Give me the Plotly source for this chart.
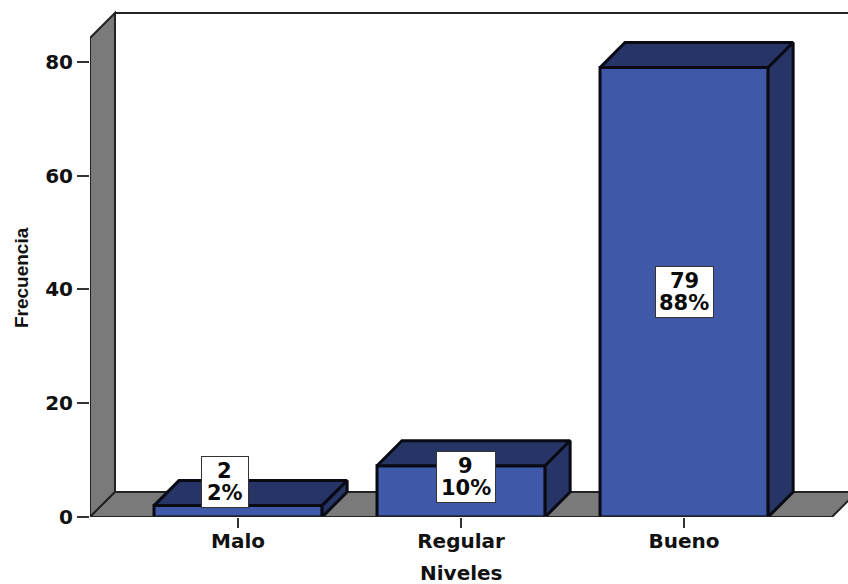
import plotly.graph_objects as go

categories = ["Malo", "Regular", "Bueno"]
values = [2, 9, 79]
percents = ["2%", "10%", "88%"]
y_ticks = [0, 20, 40, 60, 80]
x_title = "Niveles"
y_title = "Frecuencia"

# label box centres in axis units, and box widths in px
label_x = [-0.06, 0.022 + 1, 2]
label_y = [6.07, 7.1, 39.5]
box_w = [44, 56, 55]

BLUE = "#3f58a8"
DARK = "#263566"
GRAY = "#7a7a7a"
INK = "#0a0a14"
FONT = "DejaVu Sans"

half = 0.377      # half bar width, category units
dx = 0.112        # 3D depth, category units
dy = 4.4          # 3D depth, value units
x0, x1 = -0.664, 2.735
y1 = 90.0
wall_top = 84.2
floor_end = 2.663

fig = go.Figure()

fig.add_trace(go.Bar(
    x=list(range(3)), y=values, width=2 * half,
    marker=dict(color=BLUE, line=dict(color=INK, width=3)),
    hoverinfo="skip", showlegend=False,
))

for i, v in enumerate(values):
    l, r = i - half, i + half
    fig.add_trace(go.Scatter(
        x=[l, l + dx, r + dx, r, l], y=[v, v + dy, v + dy, v, v],
        mode="lines", fill="toself", fillcolor=DARK,
        line=dict(color=INK, width=3), showlegend=False, hoverinfo="skip",
    ))
    fig.add_trace(go.Scatter(
        x=[r, r + dx, r + dx, r, r], y=[0, dy, v + dy, v, 0],
        mode="lines", fill="toself", fillcolor=DARK,
        line=dict(color=INK, width=3), showlegend=False, hoverinfo="skip",
    ))

# baseline and front wall edge, unclipped so that their full width shows
fig.add_trace(go.Scatter(
    x=[x0, x0, floor_end], y=[wall_top, 0, 0], mode="lines", cliponaxis=False,
    line=dict(color="#222222", width=2), showlegend=False, hoverinfo="skip",
))

shapes = [
    dict(type="path", layer="below", xref="x", yref="y",
         path=f"M{x0},0 L{x0},{wall_top} L{x0 + dx},{wall_top + dy} L{x0 + dx},{dy} Z",
         fillcolor=GRAY, line=dict(color="#222222", width=2)),
    dict(type="path", layer="below", xref="x", yref="y",
         path=f"M{x0},0 L{x0 + dx},{dy} L{floor_end + dx},{dy} L{floor_end},0 Z",
         fillcolor=GRAY, line=dict(color="#222222", width=2)),
    dict(type="line", layer="below", xref="x", yref="y",
         x0=x0 + dx, x1=x1, y0=wall_top + dy, y1=wall_top + dy,
         line=dict(color="#222222", width=2)),
]

annotations = []
for i, (v, p) in enumerate(zip(values, percents)):
    annotations.append(dict(
        x=label_x[i], y=label_y[i], xref="x", yref="y", text=" ", showarrow=False,
        width=box_w[i], height=48, bgcolor="white",
        bordercolor="#333333", borderwidth=1, borderpad=1,
    ))
    for txt, shift in ((str(v), 11), (p, -11)):
        annotations.append(dict(
            x=label_x[i], y=label_y[i], xref="x", yref="y", text=f"<b>{txt}</b>",
            showarrow=False, yshift=shift,
            font=dict(family=FONT, size=21, color="#0a0a0a"),
        ))

annotations.append(dict(
    x=1, y=-0.109, xref="x", yref="paper", xanchor="center", yanchor="middle",
    text=f"<b>{x_title}</b>", showarrow=False,
    font=dict(family=FONT, size=20, color="#111111"),
))
annotations.append(dict(
    x=-0.091, y=42, xref="paper", yref="y", xanchor="center", yanchor="middle",
    text=f"<b>{y_title}</b>", showarrow=False,
    textangle=-90, font=dict(family="Liberation Sans", size=19, color="#111111"),
))

fig.update_layout(
    width=848, height=584,
    margin=dict(l=90, r=0, t=5, b=67),
    paper_bgcolor="white", plot_bgcolor="white",
    shapes=shapes, annotations=annotations,
    showlegend=False,
    xaxis=dict(
        range=[x0, x1], tickmode="array", tickvals=[0, 1, 2],
        ticktext=[f"<b>{c}</b>" for c in categories],
        ticks="outside", ticklen=10, tickwidth=1.5, tickcolor="#333333",
        ticklabelstandoff=-4,
        showgrid=False, zeroline=False, showline=False,
        tickfont=dict(family=FONT, size=20, color="#111111"),
    ),
    yaxis=dict(
        range=[0, y1], tickmode="array", tickvals=y_ticks,
        ticktext=[f"<b>{t}</b>" for t in y_ticks],
        ticks="outside", ticklen=12, tickwidth=1.5, tickcolor="#333333",
        showgrid=False, zeroline=False, showline=False,
        tickfont=dict(family=FONT, size=20, color="#111111"),
    ),
)

fig.write_html("out.html", config=dict(displayModeBar=False),
               post_script="document.body.style.margin='0';")
